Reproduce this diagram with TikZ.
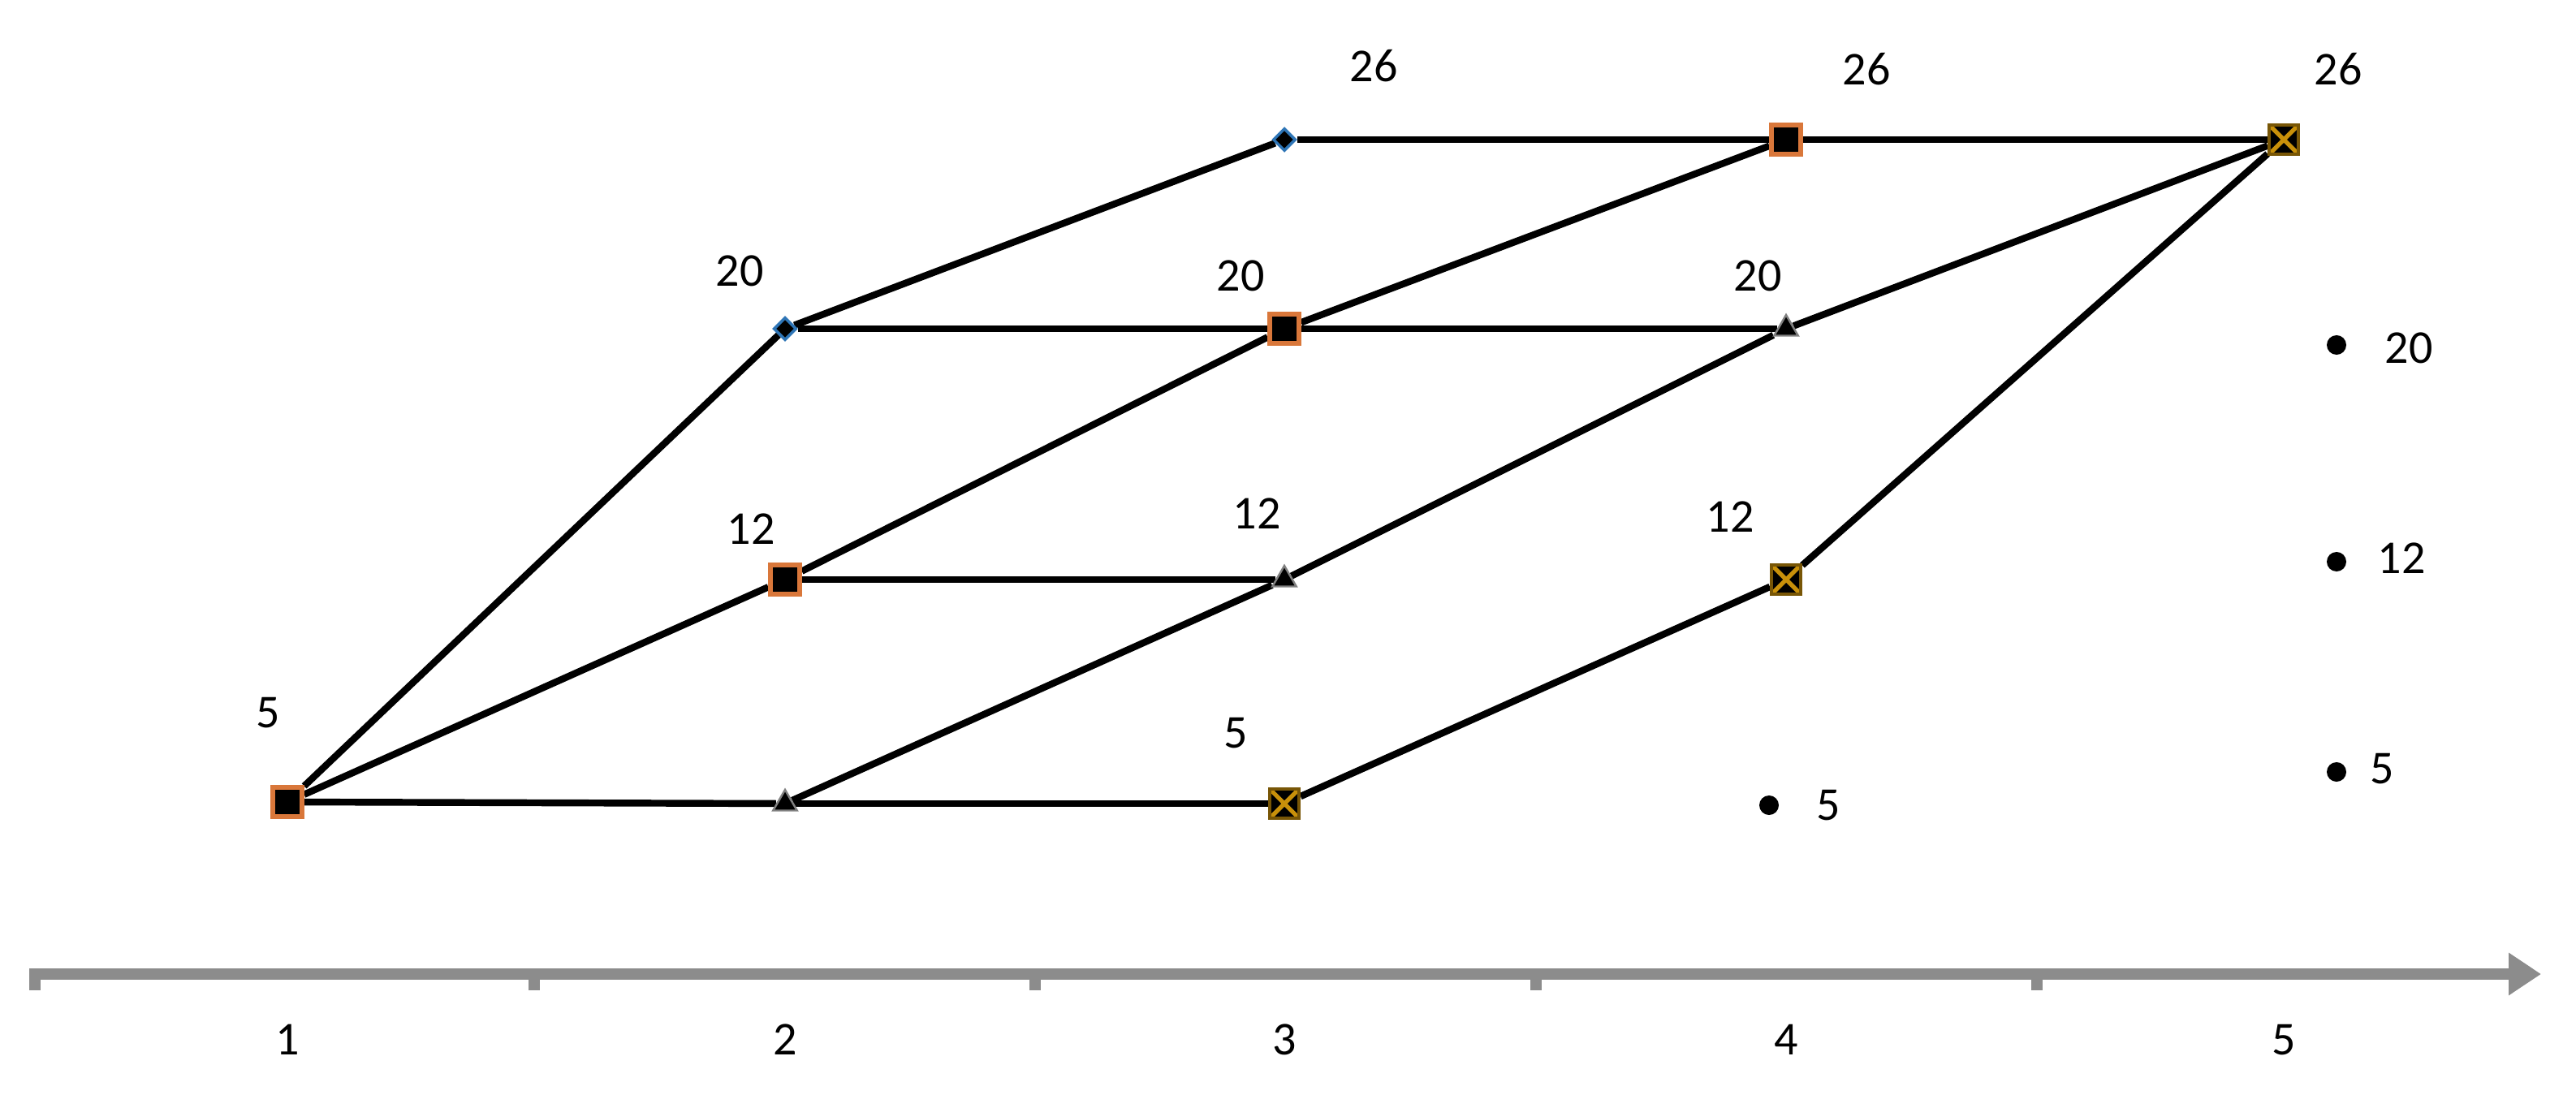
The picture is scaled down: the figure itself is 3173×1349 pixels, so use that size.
\documentclass[tikz,border=0pt]{standalone}
\usepackage{fontspec}
\setmainfont{Carlito}
\usetikzlibrary{shapes.geometric,backgrounds,arrows.meta}
\definecolor{orng}{HTML}{D9773A}
\definecolor{gold}{HTML}{C8900A}
\definecolor{dblue}{HTML}{2E75B6}
\definecolor{axgray}{HTML}{8C8C8C}
\begin{document}
\begin{tikzpicture}[x=0.01cm,y=-0.01cm,
 sq/.style={rectangle,fill=black,draw=orng,line width=1.5pt,minimum size=0.36cm,inner sep=0pt},
 tri/.style={regular polygon,regular polygon sides=3,fill=black,draw=gray,line width=0.7pt,minimum size=0.34cm,inner sep=0pt},
 dia/.style={diamond,fill=black,draw=dblue,line width=1pt,minimum size=0.28cm,inner sep=0pt},
 xsq/.style={rectangle,fill=black,draw=gold!60!black,line width=1.1pt,minimum size=0.36cm,inner sep=0pt,
   path picture={\draw[gold,line width=1.5pt] (path picture bounding box.north west)--(path picture bounding box.south east) (path picture bounding box.north east)--(path picture bounding box.south west);}},
 dotm/.style={circle,fill=black,minimum size=0.24cm,inner sep=0pt},
 lbl/.style={font=\fontsize{16.5}{19}\selectfont,inner sep=0pt,text=black},
 edge/.style={line width=2.4pt,black},
 axis/.style={axgray,line width=3.8pt}]
\useasboundingbox (0,0) rectangle (3173,1349);

% markers
\node[sq]  (n15) at (354,988) {};
\node[tri] (n25) at (967,990) {};
\node[xsq] (n35) at (1582,990) {};
\node[sq]  (n212) at (967,714) {};
\node[tri] (n312) at (1582,714) {};
\node[xsq] (n412) at (2200,714) {};
\node[dia] (n220) at (967,405) {};
\node[sq]  (n320) at (1582,405) {};
\node[tri] (n420) at (2200,405) {};
\node[dia] (n326) at (1582,172) {};
\node[sq]  (n426) at (2200,172) {};
\node[xsq] (n526) at (2813,172) {};

% connectors
\begin{scope}[on background layer]
\draw[edge] (n15) -- (n25);
\draw[edge] (n25) -- (n35);
\draw[edge] (n15) -- (n212);
\draw[edge] (n15) -- (n220);
\draw[edge] (n25) -- (n312);
\draw[edge] (n35) -- (n412);
\draw[edge] (n212) -- (n312);
\draw[edge] (n212) -- (n320);
\draw[edge] (n312) -- (n420);
\draw[edge] (n412) -- (n526);
\draw[edge] (n220) -- (n320);
\draw[edge] (n320) -- (n420);
\draw[edge] (n220) -- (n326);
\draw[edge] (n320) -- (n426);
\draw[edge] (n420) -- (n526);
\draw[edge] (n326) -- (n426);
\draw[edge] (n426) -- (n526);
\end{scope}

% node labels
\node[lbl] (t15) at (330,878) {5};
\node[lbl] (t220) at (911,334) {20};
\node[lbl] (t212) at (925,652) {12};
\node[lbl] (t326) at (1692,81) {26};
\node[lbl] (t320) at (1528,340) {20};
\node[lbl] (t312) at (1548,633) {12};
\node[lbl] (t35) at (1522,903) {5};
\node[lbl] (t426) at (2299,85) {26};
\node[lbl] (t420) at (2165,340) {20};
\node[lbl] (t412) at (2131,637) {12};
\node[lbl] (t526) at (2880,85) {26};

% free dots
\node[dotm] (d45) at (2179,992) {};
\node[lbl] (td45) at (2252,992) {5};
\node[dotm] (d520) at (2878,425) {};
\node[lbl] (td520) at (2967,429) {20};
\node[dotm] (d512) at (2878,692) {};
\node[lbl] (td512) at (2958,688) {12};
\node[dotm] (d55) at (2878,951) {};
\node[lbl] (td55) at (2934,947) {5};

% axis
\coordinate (a0) at (43,1200);
\coordinate (a1) at (3130,1200);
\draw[axis,-{Triangle[length=0.4cm,width=0.5cm]}] (a0) -- (a1);
\draw[axis] (43,1193) -- (43,1220);
\foreach \tx in {658,1275,1892,2509}{\draw[axis] (\tx,1200) -- (\tx,1220);}
\node[lbl] (x1) at (354,1281) {1};
\node[lbl] (x2) at (967,1281) {2};
\node[lbl] (x3) at (1582,1281) {3};
\node[lbl] (x4) at (2200,1281) {4};
\node[lbl] (x5) at (2813,1281) {5};
\end{tikzpicture}
\end{document}
